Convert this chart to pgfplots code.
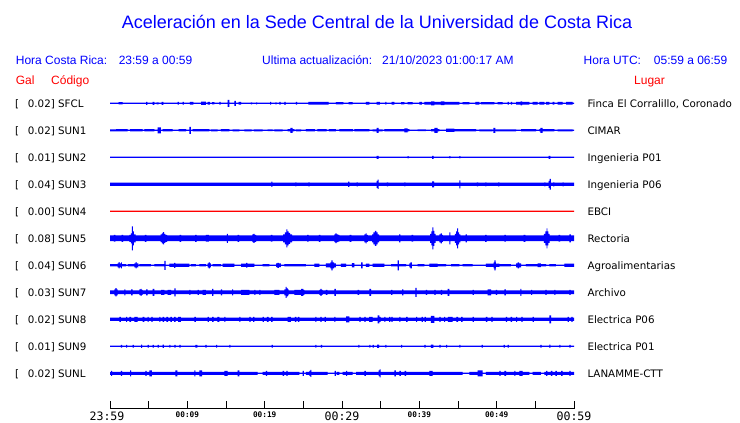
\documentclass[border=0pt]{standalone}
\usepackage{pgfplots}
\pgfplotsset{compat=1.18}
\usepackage{pgfplotstable}
\usepgfplotslibrary{fillbetween}
\usepackage{fontspec}
\setmainfont{Liberation Sans}
\newfontfamily\dejavu{DejaVu Sans}
\newfontfamily\dejavumono{DejaVu Sans Mono}
\definecolor{tblue}{RGB}{0,0,255}
\definecolor{tred}{RGB}{255,0,0}

% each table: t = minutes after 23:59, h = half amplitude of the trace envelope (px)
\pgfplotstableread{
t h
0 0.7
1.12 1.2
1.64 0.7
4.66 1.5
4.83 0.7
5.52 1.5
5.73 0.7
6.03 1.0
6.29 0.7
6.68 1.5
6.9 0.7
8.75 1.3
8.9 0.7
9.4 1.3
9.55 0.7
10.34 1.3
10.78 0.7
11.77 1.7
12.41 0.7
12.63 1.3
12.93 0.7
13.19 1.2
13.49 0.7
14.14 1.3
14.3 0.7
15.22 3.5
15.43 0.7
16.08 2.5
16.29 0.7
16.64 1.4
16.94 0.7
18.23 1.0
18.38 0.7
18.88 1.0
19.03 0.7
20.69 1.3
20.84 0.7
21.38 1.0
21.53 0.7
21.9 1.3
22.05 0.7
22.54 1.5
22.7 0.7
24.05 1.3
24.2 0.7
25.65 1.3
28.28 0.7
29.22 1.2
30.17 0.7
30.86 1.2
31.38 0.7
33.1 1.3
33.53 0.7
34.48 1.3
34.91 0.7
35.6 1.3
35.75 0.7
36.42 1.4
36.77 0.7
37.63 1.2
38.06 0.7
38.49 1.2
39.14 0.7
40.0 1.3
40.34 0.7
40.65 1.3
41.51 2.0
41.94 1.3
42.8 1.8
43.23 1.3
45.17 0.7
45.6 1.2
46.47 0.7
47.24 1.3
47.76 0.7
47.97 1.2
49.7 0.7
50.13 1.2
50.78 0.7
51.42 1.3
51.57 0.7
51.85 1.3
52.0 0.7
52.5 1.4
53.1 2.0
53.3 1.4
54.22 0.7
54.66 1.3
55.3 0.7
55.52 1.3
56.16 0.7
56.38 1.3
56.81 0.7
57.24 1.3
57.46 0.7
57.89 1.3
58.53 0.7
58.97 1.3
59.83 0.7
60 0.7
}\tSFCL

\pgfplotstableread{
t h
0 1.0
0.78 1.2
2.28 0.6
2.59 1.1
4.22 0.6
4.44 1.1
5.73 0.6
6.16 3.0
6.59 0.6
6.81 1.1
8.1 0.6
8.88 1.2
9.83 0.6
10.26 3.5
10.47 0.6
10.69 1.1
12.84 0.6
13.06 1.0
13.92 0.6
14.35 1.2
15.43 0.6
15.86 1.0
16.72 0.6
17.37 1.0
18.3 0.6
18.6 1.0
19.74 0.6
20.39 0.9
21.03 0.6
21.25 1.0
22.33 0.6
22.97 1.2
23.32 2.5
23.62 1.2
23.84 0.6
24.05 1.0
24.7 0.6
25.34 1.1
26.5 0.6
26.8 1.1
28.0 0.6
28.3 1.1
29.22 0.6
29.66 1.2
31.4 0.6
31.6 1.2
33.53 0.6
33.97 1.0
34.48 2.5
34.74 1.0
35.26 0.6
35.47 1.1
38.06 2.0
38.49 1.1
38.71 0.6
39.78 0.9
40.86 0.6
41.51 1.1
41.94 2.5
42.37 1.1
42.59 0.6
43.45 1.6
44.53 1.1
47.33 0.6
47.76 1.0
49.48 0.6
49.57 2.5
49.83 0.6
49.91 1.0
52.5 0.6
53.15 1.1
55.09 0.6
55.52 1.1
55.65 2.5
55.95 1.1
57.46 0.6
57.89 1.0
59.83 0.6
60 0.6
}\tSUNa

\pgfplotstableread{
t h
0 0.6
34.48 1.5
34.74 0.6
38.49 1.1
38.62 0.6
41.64 1.5
41.85 0.6
43.88 1.1
44.0 0.6
45.17 1.1
45.3 0.6
56.72 1.5
56.94 0.6
60 0.6
}\tSUNb

\pgfplotstableread{
t h
0 1.7
20.86 2.7
21.0 1.7
23.96 2.0
24.1 1.7
25.65 2.0
25.8 1.7
30.8 2.7
30.95 1.7
31.9 2.0
32.05 1.7
34.48 3.5
34.6 4.7
34.74 1.7
35.8 2.0
35.95 1.7
38.06 2.0
38.2 1.7
41.64 3.0
41.9 1.7
45.17 4.0
45.3 1.7
47.45 2.0
47.6 1.7
48.53 2.0
48.66 1.7
50.2 2.0
50.35 1.7
56.16 2.0
56.3 1.7
56.72 3.5
56.85 5.3
57.0 1.7
57.3 2.0
57.45 1.7
58.53 2.0
58.66 1.7
60 1.7
}\tSUNc

\pgfplotstableread{
t h
0 0.6
60 0.6
}\tSUNd

\pgfplotstableread{
t h
0 2.8
0.5 3.3
0.7 2.8
1.5 3.5
1.7 2.8
2.5 3.5
2.7 5.0
2.84 12.0
2.97 7.0
3.1 4.0
3.3 2.8
4.5 3.5
4.7 2.8
6.55 3.8
6.7 5.0
6.85 6.2
7.0 4.5
7.15 3.5
7.4 2.8
9.0 3.5
9.2 2.8
11.0 3.5
11.2 2.8
12.4 3.3
12.8 2.8
15.1 4.5
15.25 2.8
16.5 3.5
16.7 2.8
18.4 3.8
18.55 4.5
18.7 3.5
18.9 2.8
20.8 3.3
21.0 2.8
22.4 4.0
22.6 6.0
22.8 9.0
22.95 7.0
23.1 5.5
23.3 4.0
23.55 2.8
25.5 3.3
25.7 2.8
27.0 3.5
27.2 2.8
29.0 3.8
29.15 4.8
29.3 3.8
29.5 3.3
29.65 2.8
31.0 3.5
31.2 2.8
32.9 4.0
33.05 5.0
33.2 3.5
33.35 2.8
33.9 4.0
34.05 6.0
34.25 7.5
34.45 6.0
34.6 4.0
34.8 2.8
37.4 4.0
37.55 2.8
39.0 3.3
39.2 2.8
41.4 4.5
41.55 7.0
41.7 11.0
41.82 7.5
41.95 4.5
42.1 2.8
42.6 4.0
42.75 5.0
42.9 3.5
43.05 2.8
43.9 6.0
44.02 2.8
44.6 4.5
44.75 7.0
44.9 10.0
45.02 6.0
45.15 4.0
45.3 2.8
46.0 4.0
46.15 2.8
48.5 3.5
48.7 2.8
51.0 3.3
51.2 2.8
53.5 3.5
53.7 2.8
56.1 4.5
56.3 7.0
56.45 10.0
56.57 7.0
56.7 4.5
56.85 2.8
58.0 3.3
58.2 2.8
59.4 4.0
59.6 2.8
60 2.8
}\tSUNe

\pgfplotstableread{
t h
0 1.2
0.99 2.0
1.1 3.2
1.25 2.0
1.45 3.0
1.55 1.2
2.07 0.7
2.3 1.1
3.15 2.0
3.3 3.2
3.45 2.0
3.66 0.7
3.79 1.2
5.3 0.7
5.73 1.2
6.38 1.1
7.03 4.5
7.2 0.7
7.67 1.6
8.3 2.5
8.45 1.6
10.26 0.7
10.47 1.2
11.12 0.7
11.55 1.2
12.41 0.7
12.63 2.0
12.75 3.0
12.9 2.0
13.06 0.7
13.28 1.2
14.35 0.7
14.57 1.6
16.08 0.7
16.94 1.6
17.6 2.3
17.75 1.6
18.66 0.7
19.74 1.2
20.6 0.7
21.47 1.8
21.65 2.5
21.85 1.8
22.11 0.7
22.54 1.2
25.34 0.7
26.42 1.6
27.07 0.7
27.93 2.0
28.5 3.0
28.62 5.0
28.8 3.0
28.97 2.0
29.22 0.7
29.87 1.6
30.52 0.7
31.29 2.2
31.59 0.7
32.46 3.0
32.67 0.7
33.1 1.6
33.53 0.7
33.97 1.6
35.47 0.7
36.34 1.2
37.2 5.0
37.35 1.2
38.28 0.7
38.71 2.0
38.85 3.0
39.05 0.7
39.78 1.2
40.65 0.7
41.29 1.6
42.37 1.2
43.45 0.7
44.1 1.2
45.17 0.7
45.6 1.1
46.9 0.7
48.62 1.6
49.6 3.0
49.7 5.0
49.85 3.0
49.91 1.6
50.34 1.1
51.85 0.7
52.5 2.0
52.7 3.0
52.9 2.0
53.15 0.7
53.79 1.2
55.3 1.8
55.73 1.2
56.38 0.7
56.81 1.1
57.67 0.7
58.75 1.6
60 1.6
}\tSUNf

\pgfplotstableread{
t h
0 1.8
0.56 3.0
0.7 4.2
0.85 3.0
0.99 1.8
1.85 3.0
2.0 1.8
2.72 3.0
2.93 1.8
3.79 2.8
3.95 3.5
4.1 2.5
4.22 1.8
4.66 3.0
4.87 1.8
5.52 3.5
5.73 1.8
6.6 2.5
7.03 1.8
7.45 2.5
7.9 1.8
8.32 4.0
8.49 1.8
10.26 2.5
10.4 1.8
11.34 2.5
11.5 1.8
11.98 2.5
12.41 1.8
13.19 3.5
13.36 1.8
14.35 3.0
14.5 1.8
15.78 3.0
15.93 1.8
16.94 2.5
18.02 1.8
18.66 2.5
18.8 1.8
19.3 2.5
19.45 1.8
21.25 2.5
21.9 1.8
22.54 3.0
22.7 5.5
22.85 4.0
23.0 3.0
23.1 1.8
23.84 2.5
24.7 3.5
25.0 2.5
25.13 1.8
27.07 2.5
27.2 3.5
27.35 2.5
27.5 1.8
27.93 2.5
28.1 1.8
29.0 3.5
29.2 1.8
32.03 2.5
32.2 1.8
33.53 3.5
33.75 1.8
36.34 2.5
36.5 1.8
37.76 3.0
37.93 1.8
39.48 4.5
39.66 1.8
40.86 2.5
41.0 1.8
41.94 2.5
42.1 1.8
42.8 2.5
42.95 1.8
43.66 3.5
43.88 1.8
46.9 2.5
47.05 1.8
48.84 3.0
49.27 1.8
49.91 2.5
50.05 1.8
51.0 3.0
51.2 1.8
53.06 3.5
53.2 1.8
54.44 2.5
54.6 1.8
56.29 2.5
56.45 1.8
57.46 2.5
57.6 1.8
59.4 2.5
59.55 1.8
60 1.8
}\tSUNg

\pgfplotstableread{
t h
0 1.7
1.21 2.5
1.42 1.7
2.07 2.5
2.2 1.7
2.5 2.5
2.72 1.7
3.15 2.5
3.58 1.7
4.22 2.5
4.44 1.7
4.87 2.5
5.0 1.7
5.35 2.5
5.52 1.7
6.38 2.5
6.5 1.7
6.8 2.5
7.0 1.7
7.3 2.5
7.5 1.7
7.8 2.5
8.0 1.7
8.3 2.5
8.5 1.7
8.8 2.5
9.18 1.7
10.9 2.5
11.12 1.7
12.63 2.5
12.8 1.7
13.2 2.5
13.4 1.7
13.9 2.5
14.14 1.7
14.78 2.5
14.92 1.7
16.72 2.5
16.86 1.7
18.02 2.5
18.2 1.7
18.5 2.5
18.66 1.7
19.74 2.5
19.9 1.7
20.3 2.5
20.5 1.7
20.85 2.5
21.03 1.7
22.97 2.5
23.4 1.7
23.9 2.5
24.1 1.7
24.3 2.5
24.48 1.7
26.55 2.5
26.7 1.7
27.2 2.5
27.35 1.7
27.75 2.5
27.93 1.7
29.0 2.5
29.15 1.7
30.52 3.0
30.95 1.7
32.24 2.5
32.4 1.7
32.9 2.5
33.05 1.7
33.5 2.5
33.97 1.7
34.6 4.0
34.83 2.5
35.0 1.7
35.47 2.5
35.62 1.7
36.1 2.5
36.25 1.7
36.4 2.5
36.55 1.7
37.41 2.5
37.55 1.7
38.3 2.5
38.49 1.7
39.57 2.5
39.72 1.7
40.3 2.5
40.45 1.7
40.7 2.5
40.86 1.7
41.5 3.5
41.94 1.7
42.59 2.5
42.75 1.7
43.2 2.5
43.35 1.7
43.7 2.5
44.3 1.7
44.8 2.5
45.0 1.7
45.4 2.5
45.6 1.7
46.9 2.5
47.05 1.7
48.62 2.5
48.8 1.7
49.3 2.5
49.48 1.7
51.2 2.5
51.35 1.7
51.8 2.5
52.0 1.7
52.5 2.5
52.65 1.7
53.2 2.5
53.36 1.7
54.66 2.5
54.8 1.7
56.81 4.0
57.03 1.7
59.18 2.5
59.35 1.7
59.65 2.5
59.83 1.7
60 1.7
}\tSUNh

\pgfplotstableread{
t h
0 0.6
1.42 1.3
1.57 0.6
2.07 1.3
2.22 0.6
2.93 1.3
3.08 0.6
4.01 1.7
4.16 0.6
4.87 1.3
5.02 0.6
5.52 1.3
5.67 0.6
6.16 1.3
6.31 0.6
6.81 1.7
6.96 0.6
7.67 1.3
7.82 0.6
8.32 1.3
8.47 0.6
8.97 1.3
9.12 0.6
11.03 1.3
11.3 0.6
12.33 1.3
12.48 0.6
13.71 1.3
13.86 0.6
15.43 1.3
15.58 0.6
20.91 1.3
21.06 0.6
26.55 1.3
26.7 0.6
27.28 1.3
27.43 0.6
32.11 1.3
32.26 0.6
33.53 1.3
33.68 0.6
33.97 1.3
34.12 0.6
34.55 1.7
34.8 0.6
35.6 1.3
35.75 0.6
37.63 1.3
37.78 0.6
40.65 1.3
40.8 0.6
41.5 1.7
41.8 0.6
42.59 1.3
42.74 0.6
43.45 1.3
43.6 0.6
45.17 1.3
45.32 0.6
48.06 1.3
48.21 0.6
50.9 1.3
51.05 0.6
51.42 1.3
51.57 0.6
55.65 1.3
55.8 0.6
56.81 1.7
56.96 0.6
58.1 1.3
58.25 0.6
59.4 1.3
59.55 0.6
60 0.6
}\tSUNi

\pgfplotstableread{
t h
0 1.5
0.13 2.5
0.28 1.5
1.42 2.5
1.57 1.5
2.59 3.0
2.74 1.5
4.57 2.5
4.72 1.5
5.09 3.0
5.43 1.5
8.45 3.0
8.71 1.5
10.9 3.0
11.05 1.5
11.55 3.0
11.9 1.5
14.78 2.5
15.22 1.5
16.51 3.0
16.72 1.5
19.1 0.7
19.74 1.5
20.17 2.5
20.32 1.5
22.33 2.5
22.5 1.5
22.8 2.5
22.97 1.5
24.48 0.7
24.91 2.5
25.06 0.7
25.34 1.5
25.78 2.5
25.9 3.5
26.03 1.5
28.15 0.7
29.05 2.5
29.2 0.7
29.3 1.5
29.66 0.7
30.09 1.5
30.52 2.5
30.67 1.5
31.38 0.7
31.81 1.5
32.89 2.5
33.1 1.5
34.74 2.8
34.86 4.0
35.0 1.5
36.77 3.0
36.98 1.5
37.41 2.5
37.6 1.5
38.1 2.5
38.28 1.5
41.29 2.5
41.72 1.5
45.6 0.7
46.47 1.5
47.54 3.0
48.19 0.7
48.62 1.5
50.34 2.5
50.5 1.5
51.0 2.5
51.21 1.5
52.28 2.5
52.43 1.5
52.93 2.5
53.36 1.5
54.22 0.7
54.66 1.5
55.73 0.7
56.16 1.5
56.38 2.5
56.55 1.5
57.0 2.5
57.2 1.5
57.6 2.5
57.8 1.5
58.35 2.5
58.53 1.5
59.4 2.5
59.55 1.5
60 1.5
}\tSUNL

\newcommand{\trace}[4]{%
  \addplot[name path=#3u, draw=none, const plot, forget plot] table[x=t, y expr={#2-\thisrow{h}}] {#1};
  \addplot[name path=#3l, draw=none, const plot, forget plot] table[x=t, y expr={#2+\thisrow{h}}] {#1};
  \addplot[fill=#4, draw=none, forget plot] fill between[of=#3u and #3l];
}
\newcommand{\sm}[1]{\raisebox{3bp}{\fontsize{7.75bp}{8bp}\selectfont\bfseries #1}}

\begin{document}
\begin{tikzpicture}
\begin{axis}[at={(0,0)}, anchor=south west, scale only axis,
  width=740bp, height=423bp,
  xmin=-14.2241, xmax=81.4655, ymin=0, ymax=423, y dir=reverse,
  hide axis, clip=false]
\trace{\tSFCL}{103.3}{a}{tblue}
\trace{\tSUNa}{130.3}{b}{tblue}
\trace{\tSUNb}{157.3}{c}{tblue}
\trace{\tSUNc}{184.3}{d}{tblue}
\trace{\tSUNd}{211.3}{e}{tred}
\trace{\tSUNe}{238.3}{f}{tblue}
\trace{\tSUNf}{265.3}{g}{tblue}
\trace{\tSUNg}{292.3}{h}{tblue}
\trace{\tSUNh}{319.3}{i}{tblue}
\trace{\tSUNi}{346.3}{j}{tblue}
\trace{\tSUNL}{373.3}{k}{tblue}
\end{axis}

\begin{axis}[at={(110bp,14.5bp)}, anchor=south west, scale only axis,
  width=464bp, height=20bp, xmin=0, xmax=60, ymin=0, ymax=1,
  axis x line=bottom, axis y line=none,
  axis line style={-, black, line width=0.9bp},
  xtick={0,5,...,60},
  xticklabels={\hspace*{-6bp}23:59,,\sm{00:09},,\sm{00:19},,00:29,,\sm{00:39},,\sm{00:49},,00:59},
  tick align=inside, major tick length=7.5bp,
  tick style={black, line width=0.9bp},
  xticklabel style={anchor=base, inner sep=0pt, yshift=-11.5bp,
    font=\dejavumono\fontsize{11.6bp}{12bp}\selectfont}]
\addplot[draw=none, forget plot] coordinates {(0,0) (60,1)};
\end{axis}

% titles
\node[anchor=base, inner sep=0, text=tblue, font=\fontsize{18bp}{20bp}\selectfont] at (377bp,394bp) {Aceleración en la Sede Central de la Universidad de Costa Rica};
\begin{scope}[every node/.style={anchor=base west, inner sep=0, text=tblue, font=\fontsize{12bp}{14bp}\selectfont}]
\node at (15.7bp,358.7bp) {Hora Costa Rica:};
\node at (118.6bp,358.7bp) {23:59 a 00:59};
\node at (262bp,358.7bp) {Ultima actualización:};
\node at (382bp,358.7bp) {21/10/2023 01:00:17 AM};
\node at (583.5bp,358.7bp) {Hora UTC:};
\node at (653.7bp,358.7bp) {05:59 a 06:59};
\end{scope}
\begin{scope}[every node/.style={anchor=base west, inner sep=0, text=tred, font=\fontsize{12bp}{14bp}\selectfont}]
\node at (15.7bp,338.7bp) {Gal};
\node at (51bp,338.7bp) {Código};
\node at (634bp,338.7bp) {Lugar};
\end{scope}
% station labels
\begin{scope}[every node/.style={anchor=base west, inner sep=0, text=black, font=\dejavu\fontsize{10.3bp}{12bp}\selectfont}]
\foreach \v/\c/\l [count=\i from 0] in {0.02/SFCL/{Finca El Corralillo, Coronado}, 0.02/SUN1/CIMAR, 0.01/SUN2/Ingenieria P01, 0.04/SUN3/Ingenieria P06, 0.00/SUN4/EBCI, 0.08/SUN5/Rectoria, 0.04/SUN6/Agroalimentarias, 0.03/SUN7/Archivo, 0.02/SUN8/Electrica P06, 0.01/SUN9/Electrica P01, 0.02/SUNL/LANAMME-CTT}{
  \node at (15bp,{(316-27*\i)*1bp}) {[};
  \node at (27.7bp,{(316-27*\i)*1bp}) {\v] \c};
  \node at (587.3bp,{(316-27*\i)*1bp}) {\l};
}
\end{scope}
\pgfresetboundingbox
\path[use as bounding box] (0,0) rectangle (740bp,423bp);
\end{tikzpicture}
\end{document}
